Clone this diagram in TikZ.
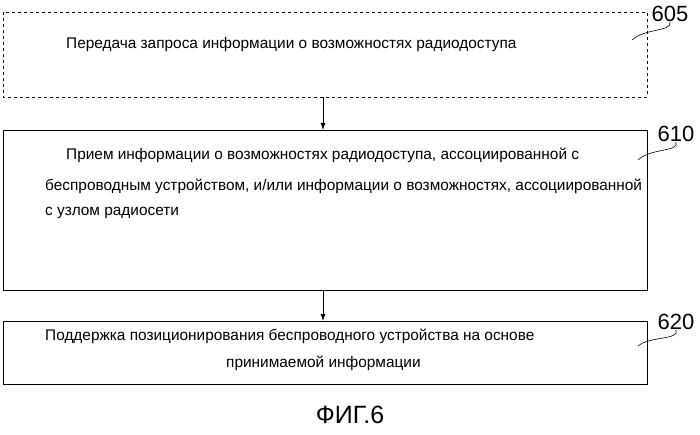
\documentclass[tikz,border=0pt]{standalone}
\usepackage{fontspec}
\setmainfont{Liberation Sans}
\usetikzlibrary{arrows.meta}
\begin{document}
\begin{tikzpicture}[x=1pt,y=-1pt,
  box/.style={draw,line width=0.8pt},
  txt/.style={font=\fontsize{15.4}{17}\selectfont,anchor=west,inner sep=0},
  lab/.style={font=\fontsize{22}{24}\selectfont,inner sep=0},
  arr/.style={-{Latex[length=7pt,width=5pt]},line width=0.8pt},
  sq/.style={line width=0.6pt}]
\useasboundingbox (0,0) rectangle (700,435);
\draw[box,dashed] (3,12) rectangle (647,97);
\coordinate (b1t) at (323,97);
\node[txt] (t1) at (66,45) {Передача запроса информации о возможностях радиодоступа};
\draw[box] (3,130) rectangle (647,290);
\coordinate (b2t) at (323,130); \coordinate (b2b) at (323,290);
\node[txt] (t2a) at (66,155) {Прием информации о возможностях радиодоступа, ассоциированной с};
\node[txt] (t2b) at (45,186) {беспроводным устройством, и/или информации о возможностях, ассоциированной};
\node[txt] (t2c) at (45,213) {с узлом радиосети};
\draw[box] (3,321) rectangle (647,384);
\coordinate (b3t) at (323,321);
\node[txt] (t3a) at (45,336) {Поддержка позиционирования беспроводного устройства на основе};
\node[txt] (t3b) at (226,363) {принимаемой информации};
\draw[arr] (b1t) -- (b2t);
\draw[arr] (b2b) -- (b3t);
\node[lab] (l1) at (670,14) {605};
\node[lab] (l2) at (676,134) {610};
\node[lab] (l3) at (676,322) {620};
\coordinate (e1) at (632,40); \coordinate (e2) at (638,160); \coordinate (e3) at (638,346);
\draw[sq] (l1.south) .. controls (672,32) and (645,28) .. (e1);
\draw[sq] (l2.south) .. controls (680,152) and (650,148) .. (e2);
\draw[sq] (l3.south) .. controls (680,340) and (650,336) .. (e3);
\node[font=\fontsize{25}{27}\selectfont] (cap) at (350,415) {ФИГ.6};
\end{tikzpicture}
\end{document}
